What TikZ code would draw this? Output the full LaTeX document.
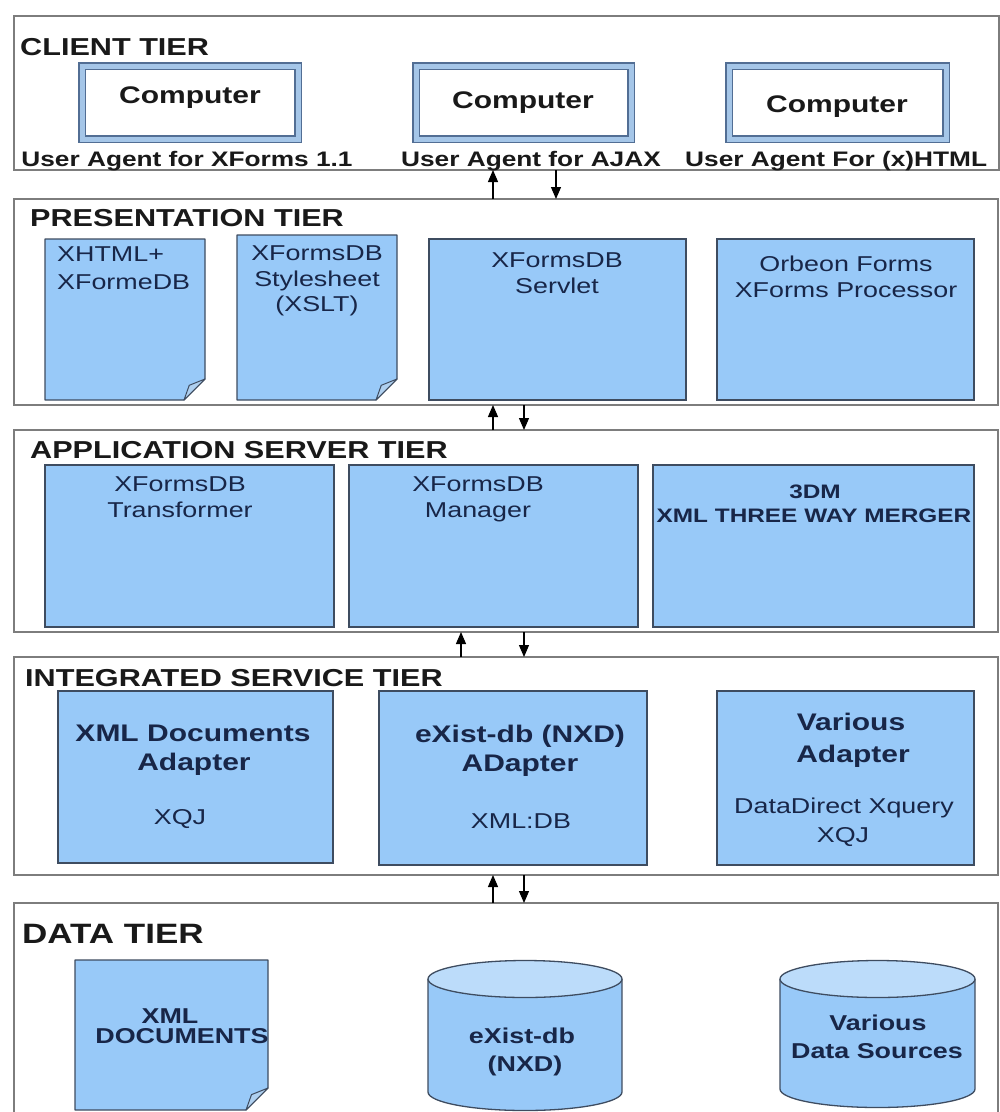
\documentclass[tikz,border=0pt]{standalone}
\usepackage{fontspec}
\setmainfont{Liberation Sans}[FakeStretch=1.25]
\usetikzlibrary{arrows.meta}
\definecolor{panelgray}{RGB}{125,125,125}
\definecolor{boxblue}{RGB}{152,201,248}
\definecolor{boxline}{RGB}{62,76,96}
\definecolor{boxtext}{RGB}{24,38,72}
\definecolor{tiertext}{RGB}{25,25,25}
\definecolor{compline}{RGB}{82,110,148}
\definecolor{compband}{RGB}{165,198,232}
\definecolor{cyltop}{RGB}{188,220,250}
\definecolor{foldblue}{RGB}{175,208,240}
\tikzset{
  panel/.style={draw=panelgray, line width=1.4pt, fill=white, rectangle, inner sep=0pt, outer sep=0pt},
  bluebox/.style={draw=boxline, line width=1.3pt, fill=boxblue, rectangle, inner sep=0pt},
  computer/.style={draw=compline, line width=1.1pt, double=compband, double distance=5pt, fill=white, rectangle, inner sep=0pt},
  docbody/.style={draw=boxline, line width=1.3pt, fill=boxblue, line join=round},
  docfold/.style={draw=boxline, line width=1pt, fill=foldblue, line join=round},
  ttl/.style={anchor=base west, inner sep=0pt, text=tiertext, font=\bfseries\fontsize{24.5}{28}\selectfont},
  comp/.style={anchor=base, inner sep=0pt, text=black!90, font=\bfseries\fontsize{24}{28}\selectfont},
  ua/.style={anchor=base, inner sep=0pt, text=black!90, font=\bfseries\fontsize{21}{24}\selectfont},
  bt/.style={anchor=base, inner sep=0pt, text=boxtext, font=\fontsize{21.5}{24}\selectfont},
  bb/.style={anchor=base, inner sep=0pt, text=boxtext, font=\bfseries\fontsize{24}{28}\selectfont},
  bsmall/.style={anchor=base, inner sep=0pt, text=boxtext, font=\bfseries\fontsize{19.5}{22}\selectfont},
  bdata/.style={anchor=base, inner sep=0pt, text=boxtext, font=\bfseries\fontsize{21.5}{24}\selectfont},
  arr/.style={-{Triangle[length=12pt,width=10pt]}, line width=1.2pt, black}
}
\newcommand\boxat[6]{\node[#1, minimum width={#4-#2}, minimum height={#5-#3}] (#6) at ({(#2+#4)/2},{(#3+#5)/2}) {};}
\newcommand\docat[6]{%
  \path[docbody] (#1,#2) -- (#3,#2) -- (#3,{#4-#5}) -- ({#3-#5},#4) -- (#1,#4) -- cycle;
  \path[docfold] (#3,{#4-#5}) -- ({#3-#5},#4) -- ({#3-0.75*#5},{#4-0.7*#5}) -- cycle;
  \coordinate (#6) at ({(#1+#3)/2},{(#2+#4)/2});}
\newcommand\cylat[6]{%
  \fill[boxblue] ({#1-#2},#3) rectangle ({#1+#2},#4);
  \fill[boxblue] (#1,#4) ellipse[x radius=#2pt, y radius=#5pt];
  \draw[boxline, line width=1.3pt] ({#1-#2},#3) -- ({#1-#2},#4) arc[start angle=180, end angle=360, x radius=#2pt, y radius=#5pt] -- ({#1+#2},#3);
  \draw[boxline, line width=1.3pt, fill=cyltop] (#1,#3) ellipse[x radius=#2pt, y radius=#5pt];
  \coordinate (#6) at (#1,{(#3+#4)/2});}
\begin{document}
\begin{tikzpicture}[x=1pt,y=-1pt]
\useasboundingbox (0,0) rectangle (1000,1112);
\clip (0,0) rectangle (1000,1112);
\fill[white] (0,0) rectangle (1000,1112);
% ---------- panels
\boxat{panel}{14}{16}{999}{170}{client}
\boxat{panel}{14}{199}{998}{405}{pres}
\boxat{panel}{14}{430}{998}{632}{app}
\boxat{panel}{14}{657}{998}{875}{integ}
\boxat{panel}{14}{903}{998}{1130}{data}
% ---------- client tier
\node[ttl] (tclient) at (20,55) {CLIENT TIER};
\boxat{computer}{82}{66}{298}{139}{c1}
\boxat{computer}{416}{66}{631}{139}{c2}
\boxat{computer}{729}{66}{946}{139}{c3}
\node[comp] (c1t) at (190,103) {Computer};
\node[comp] (c2t) at (523,108) {Computer};
\node[comp] (c3t) at (837,112) {Computer};
\node[ua] (ua1) at (187,166) {User Agent for XForms 1.1};
\node[ua] (ua2) at (531,166) {User Agent for AJAX};
\node[ua, anchor=base west] (ua3) at (685,166) {User Agent For (x)HTML};
% ---------- presentation tier
\node[ttl] (tpres) at (30,226) {PRESENTATION TIER};
\docat{45}{239}{205}{400}{21}{d1}
\docat{237}{235}{397}{400}{21}{d2}
\boxat{bluebox}{429}{239}{686}{400}{servlet}
\boxat{bluebox}{717}{239}{974}{400}{orbeon}
\node[bt, anchor=base west] (d1a) at (57,261) {XHTML+};
\node[bt, anchor=base west] (d1b) at (57,289) {XFormeDB};
\node[bt] (d2a) at (317,260) {XFormsDB};
\node[bt] (d2b) at (317,286) {Stylesheet};
\node[bt] (d2c) at (317,311) {(XSLT)};
\node[bt] (s1) at (557,267) {XFormsDB};
\node[bt] (s2) at (557,293) {Servlet};
\node[bt] (o1) at (846,271) {Orbeon Forms};
\node[bt] (o2) at (846,297) {XForms Processor};
% ---------- application server tier
\node[ttl] (tapp) at (30,458) {APPLICATION SERVER TIER};
\boxat{bluebox}{45}{465}{334}{627}{trans}
\boxat{bluebox}{349}{465}{638}{627}{manag}
\boxat{bluebox}{653}{465}{974}{627}{merger}
\node[bt] (t1) at (180,491) {XFormsDB};
\node[bt] (t2) at (180,517) {Transformer};
\node[bt] (m1) at (478,491) {XFormsDB};
\node[bt] (m2) at (478,517) {Manager};
\node[bsmall] (g1) at (815,498) {3DM};
\node[bsmall] (g2) at (814,522) {XML THREE WAY MERGER};
% ---------- integrated service tier
\node[ttl] (tinteg) at (25,686) {INTEGRATED SERVICE TIER};
\boxat{bluebox}{58}{691}{333}{863}{xmladapt}
\boxat{bluebox}{379}{691}{647}{865}{existadapt}
\boxat{bluebox}{717}{691}{974}{865}{varadapt}
\node[bb] (x1) at (193,741) {XML Documents};
\node[bb] (x2) at (194,770) {Adapter};
\node[bt] (x3) at (180,824) {XQJ};
\node[bb] (e1) at (520,742) {eXist-db (NXD)};
\node[bb] (e2) at (520,771) {ADapter};
\node[bt] (e3) at (521,828) {XML:DB};
\node[bb] (v1) at (851,730) {Various};
\node[bb] (v2) at (853,762) {Adapter};
\node[bt] (v3) at (844,813) {DataDirect Xquery};
\node[bt] (v4) at (843,842) {XQJ};
% ---------- data tier
\node[ttl, font=\bfseries\fontsize{28}{32}\selectfont] (tdata) at (22,943) {DATA TIER};
\docat{75}{960}{268}{1110}{22}{xmldocs}
\cylat{525}{97}{979}{1092}{18.5}{existdb}
\cylat{877.5}{97.5}{979}{1089}{18.5}{varsrc}
\node[bdata] (xd1) at (170,1023) {XML};
\node[bdata] (xd2) at (182,1043) {DOCUMENTS};
\node[bdata] (ed1) at (522,1043) {eXist-db};
\node[bdata] (ed2) at (525,1071) {(NXD)};
\node[bdata] (vd1) at (878,1030) {Various};
\node[bdata] (vd2) at (877,1058) {Data Sources};
% ---------- arrows between tiers
\coordinate (xa) at (493,0);
\coordinate (xb) at (556,0);
\coordinate (xc) at (524,0);
\coordinate (xd) at (461,0);
\draw[arr] (pres.north -| xa) -- (client.south -| xa);
\draw[arr] (client.south -| xb) -- (pres.north -| xb);
\draw[arr] (app.north -| xa) -- (pres.south -| xa);
\draw[arr] (pres.south -| xc) -- (app.north -| xc);
\draw[arr] (integ.north -| xd) -- (app.south -| xd);
\draw[arr] (app.south -| xc) -- (integ.north -| xc);
\draw[arr] (data.north -| xa) -- (integ.south -| xa);
\draw[arr] (integ.south -| xc) -- (data.north -| xc);
\end{tikzpicture}
\end{document}
